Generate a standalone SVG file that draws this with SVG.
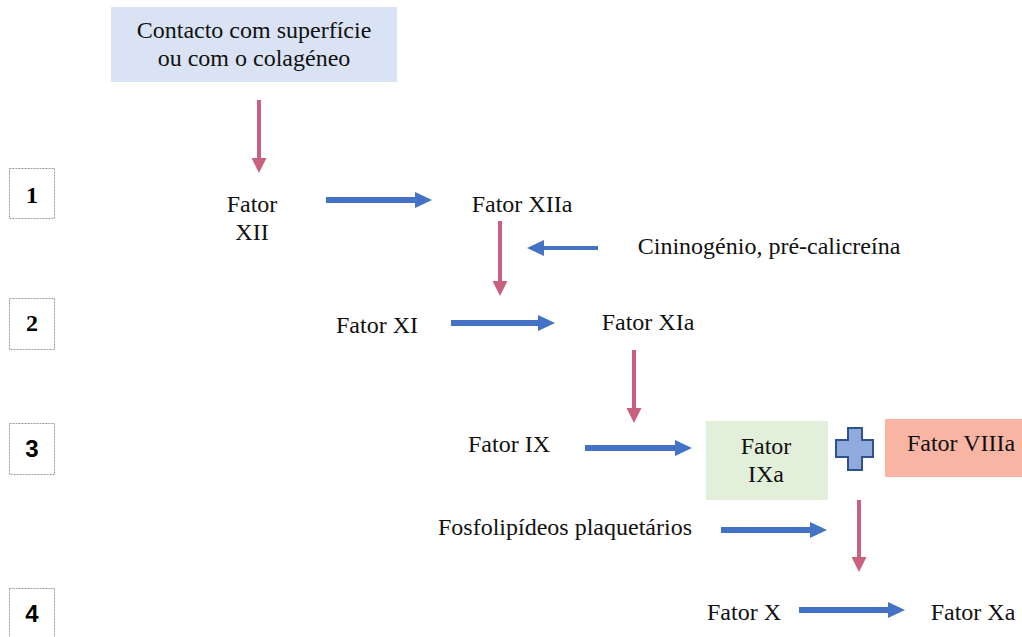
<svg xmlns="http://www.w3.org/2000/svg" width="1022" height="637" viewBox="0 0 1022 637">
  <style>
    .t { font-family: 'Liberation Serif', 'Times New Roman', serif; font-size: 24px; fill: #111; text-anchor: middle; }
    .num { font-family: 'Liberation Serif', 'Times New Roman', serif; font-size: 24px; font-weight: bold; fill: #000; text-anchor: middle; }
    .num.sans { font-family: 'Liberation Sans', Arial, sans-serif; }
    .step { fill: #fff; stroke: #9a9a9a; stroke-width: 1; stroke-dasharray: 2 1; }
    .blue { stroke: #4472c4; stroke-width: 6; fill: none; marker-end: url(#blueHead); }
    .blue-thin { stroke: #4472c4; stroke-width: 4; fill: none; marker-end: url(#blueHead); }
    .pink { stroke: #c9607f; stroke-width: 4; fill: none; marker-end: url(#pinkHead); }
  </style>
  <defs>
    <marker id="blueHead" markerUnits="userSpaceOnUse" markerWidth="17" markerHeight="16" refX="0" refY="8" orient="auto">
      <path d="M0,0 L17,8 L0,16 z" fill="#4472c4"/>
    </marker>
    <marker id="pinkHead" markerUnits="userSpaceOnUse" markerWidth="15" markerHeight="15" refX="0" refY="7.5" orient="auto">
      <path d="M0,0 L15,7.5 L0,15 z" fill="#c9607f"/>
    </marker>
  </defs>

  <rect width="1022" height="637" fill="#ffffff"/>

  <!-- step markers -->
  <g id="step-1">
    <rect class="step" x="9.5" y="168.5" width="45" height="50"/>
    <text class="num" x="32" y="203">1</text>
  </g>
  <g id="step-2">
    <rect class="step" x="9.5" y="298.5" width="45" height="51"/>
    <text class="num" x="32" y="331">2</text>
  </g>
  <g id="step-3">
    <rect class="step" x="9.5" y="423.5" width="45" height="51"/>
    <text class="num sans" x="32" y="457">3</text>
  </g>
  <g id="step-4">
    <rect class="step" x="9.5" y="588.5" width="45" height="52"/>
    <text class="num sans" x="32" y="622">4</text>
  </g>

  <!-- nodes -->
  <g id="contact">
    <rect x="111" y="7" width="286" height="75" fill="#dae3f3"/>
    <text class="t" x="254" y="38">Contacto com superfície</text>
    <text class="t" x="254" y="66">ou com o colagéneo</text>
  </g>
  <g id="factor-xii">
    <text class="t" x="252" y="212">Fator</text>
    <text class="t" x="252" y="240">XII</text>
  </g>
  <g id="factor-xiia">
    <text class="t" x="522" y="212">Fator XIIa</text>
  </g>
  <g id="kininogen">
    <text class="t" x="769" y="254">Cininogénio, pré-calicreína</text>
  </g>
  <g id="factor-xi">
    <text class="t" x="377" y="333">Fator XI</text>
  </g>
  <g id="factor-xia">
    <text class="t" x="648" y="330">Fator XIa</text>
  </g>
  <g id="factor-ix">
    <text class="t" x="509" y="452">Fator IX</text>
  </g>
  <g id="factor-ixa">
    <rect x="706" y="421" width="122" height="79" fill="#e2efda"/>
    <text class="t" x="766" y="454">Fator</text>
    <text class="t" x="766" y="482">IXa</text>
  </g>
  <g id="plus">
    <path d="M848,428 H862 V440 H873 V457 H862 V470 H848 V457 H836 V440 H848 Z" fill="#8faadc" stroke="#2f528f" stroke-width="2"/>
  </g>
  <g id="factor-viiia">
    <rect x="885" y="419" width="137" height="58" fill="#f8b5a4"/>
    <text class="t" x="961" y="451">Fator VIIIa</text>
  </g>
  <g id="phospholipids">
    <text class="t" x="565" y="535">Fosfolipídeos plaquetários</text>
  </g>
  <g id="factor-x">
    <text class="t" x="744" y="620">Fator X</text>
  </g>
  <g id="factor-xa">
    <text class="t" x="973" y="620">Fator Xa</text>
  </g>

  <!-- connectors -->
  <g id="connectors">
    <line class="pink" x1="259" y1="100" x2="259" y2="158"/>
    <line class="blue" x1="326" y1="200" x2="415" y2="200"/>
    <line class="pink" x1="500" y1="221" x2="500" y2="281"/>
    <line class="blue-thin" x1="598" y1="248" x2="544" y2="248"/>
    <line class="blue" x1="451" y1="323" x2="538" y2="323"/>
    <line class="pink" x1="634" y1="350" x2="634" y2="408"/>
    <line class="blue" x1="585" y1="448" x2="675" y2="448"/>
    <line class="blue" x1="721" y1="530" x2="810" y2="530"/>
    <line class="pink" x1="859" y1="500" x2="859" y2="557"/>
    <line class="blue" x1="799" y1="610" x2="888" y2="610"/>
  </g>
</svg>
